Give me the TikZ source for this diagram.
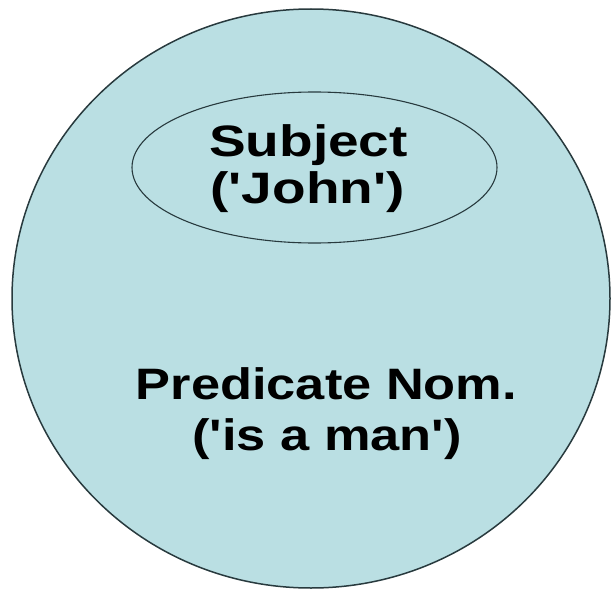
\documentclass[tikz,border=0pt]{standalone}
\usepackage{fontspec}
\newfontfamily\subjfont[FakeStretch=1.25]{Liberation Sans Bold}
\newfontfamily\predfont[FakeStretch=1.19]{Liberation Sans Bold}
\definecolor{circfill}{RGB}{186,223,227}
\definecolor{edgecol}{RGB}{40,58,62}
\begin{document}
\begin{tikzpicture}[x=1pt,y=-1pt,
  outline/.style={draw=edgecol,fill=circfill},
  subjtext/.style={inner sep=0pt,anchor=base,font=\subjfont\fontsize{44}{50}\selectfont},
  predtext/.style={inner sep=0pt,anchor=base,font=\predfont\fontsize{44}{50}\selectfont}]
\useasboundingbox[fill=white] (0,0) rectangle (611,594);
\draw[outline,line width=1.5pt] (311,298.5) ellipse [x radius=299, y radius=289.5];
\draw[outline,line width=1.1pt] (314.5,167.5) ellipse [x radius=182.5, y radius=75.5];
\node[subjtext] (subj1) at (308.5,156) {Subject};
\node[subjtext] (subj2) at (307.5,203) {('John')};
\node[predtext] (pred1) at (326.5,399) {Predicate Nom.};
\node[predtext] (pred2) at (327,450) {('is a man')};
\end{tikzpicture}
\end{document}
